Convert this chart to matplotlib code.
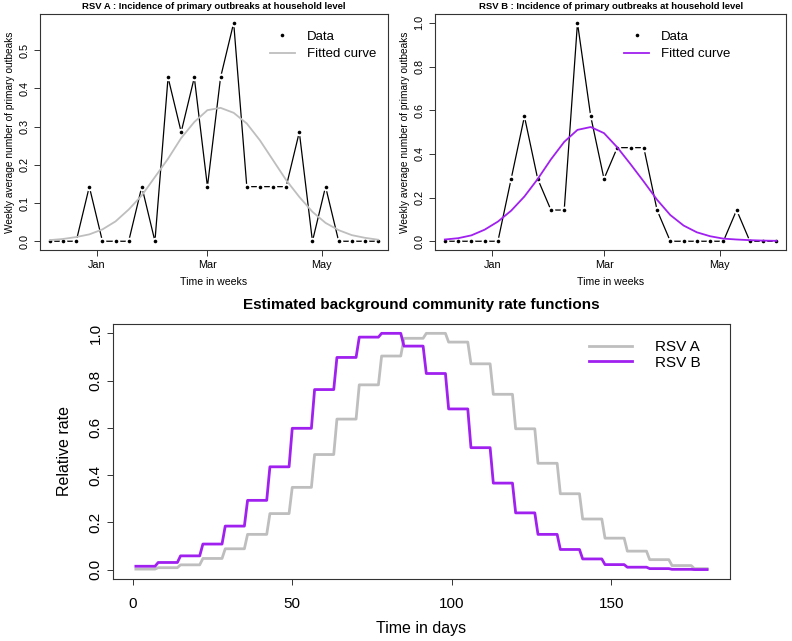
import numpy as np
import pandas as pd
import matplotlib
matplotlib.use("Agg")
import matplotlib.pyplot as plt
import matplotlib.dates as mdates

plt.rcParams['font.family'] = ['Liberation Sans', 'DejaVu Sans']

# weekly data (top panels)
week_dates = pd.date_range("2009-12-07", periods=26, freq="7D")
rsv_a_data = [0, 0, 0, 1/7, 0, 0, 0, 1/7, 0, 3/7, 2/7, 3/7, 1/7, 3/7, 4/7,
              1/7, 1/7, 1/7, 1/7, 2/7, 0, 1/7, 0, 0, 0, 0]
rsv_a_fit = [0.003, 0.006, 0.011, 0.018, 0.031, 0.052, 0.083, 0.12, 0.168, 0.216,
             0.27, 0.312, 0.343, 0.349, 0.336, 0.308, 0.264, 0.212, 0.16, 0.116,
             0.077, 0.048, 0.029, 0.016, 0.009, 0.004]
rsv_b_data = [0, 0, 0, 0, 0, 2/7, 4/7, 2/7, 1/7, 1/7, 1.0, 4/7, 2/7, 3/7, 3/7,
              3/7, 1/7, 0, 0, 0, 0, 0, 1/7, 0, 0, 0]
rsv_b_fit = [0.008, 0.014, 0.027, 0.053, 0.09, 0.14, 0.205, 0.285, 0.375, 0.455,
             0.51, 0.523, 0.495, 0.43, 0.353, 0.273, 0.19, 0.12, 0.072, 0.041,
             0.023, 0.012, 0.008, 0.005, 0.003, 0.002]

# weekly levels of the community rate functions (bottom panel), days 1..180
days = np.arange(1, 181)
rate_a_levels = [0.002, 0.008, 0.02, 0.047, 0.088, 0.149, 0.237, 0.348, 0.487, 0.637,
                 0.782, 0.904, 0.979, 1.0, 0.963, 0.871, 0.742, 0.596, 0.45, 0.321,
                 0.214, 0.133, 0.078, 0.042, 0.017, 0.004]
rate_b_levels = [0.014, 0.03, 0.058, 0.108, 0.184, 0.293, 0.435, 0.598, 0.762, 0.898,
                 0.984, 1.0, 0.946, 0.83, 0.68, 0.516, 0.366, 0.24, 0.149, 0.085,
                 0.045, 0.021, 0.01, 0.004, 0.001, 0.0]
rate_a = np.repeat(rate_a_levels, 7)[:len(days)]
rate_b = np.repeat(rate_b_levels, 7)[:len(days)]

GRAY = '#BEBEBE'
PURPLE = '#A020F0'

fig = plt.figure(figsize=(7.92, 6.41), dpi=100)
ax1 = fig.add_axes([0.0505, 0.61, 0.4394, 0.368])
ax2 = fig.add_axes([0.549, 0.61, 0.444, 0.368])
ax3 = fig.add_axes([0.1427, 0.0967, 0.779, 0.398])


def r_style(ax, fs, xpad=3.5):
    for s in ax.spines.values():
        s.set_linewidth(0.8)
        s.set_color('#333333')
    ax.tick_params(direction='out', length=4, width=0.7, color='#333333', labelsize=fs)
    ax.tick_params(axis='x', pad=xpad)
    for lab in ax.get_yticklabels():
        lab.set_rotation(90)
        lab.set_va('center')


def top_panel(ax, data, fit, fit_col, title, ymax, yticks, leg_x):
    ax.plot(week_dates, data, color='black', lw=0.9, zorder=2)
    ax.plot(week_dates, data, 'o', color='white', ms=5.5, mec='none', zorder=3)
    ax.plot(week_dates, data, 'o', color='black', ms=2.6, mec='none', zorder=4, label='Data')
    ax.plot(week_dates, fit, color=fit_col, lw=1.3, zorder=5, label='Fitted curve')
    pad = pd.Timedelta(days=5.3)
    ax.set_xlim(week_dates[0] - pad, week_dates[-1] + pad)
    ax.set_ylim(-0.04 * ymax, 1.04 * ymax)
    ax.set_yticks(yticks)
    ax.set_yticklabels([f"{v:.1f}" for v in yticks])
    ax.set_xticks(pd.to_datetime(["2010-01-01", "2010-03-01", "2010-05-01"]))
    ax.xaxis.set_major_formatter(mdates.DateFormatter('%b'))
    ax.set_title(title, fontsize=6.8, fontweight='bold', pad=4)
    ax.set_xlabel("Time in weeks", fontsize=7.6, labelpad=5)
    ax.set_ylabel("Weekly average number of primary outbeaks", fontsize=7.3, labelpad=3)
    ax.legend(loc='upper right', bbox_to_anchor=(leg_x, 0.98), frameon=False,
              fontsize=9.5, handlelength=1.9, handletextpad=0.9, labelspacing=0.4)
    r_style(ax, 7.8)


top_panel(ax1, rsv_a_data, rsv_a_fit, GRAY,
          "RSV A : Incidence of primary outbreaks at household level",
          4/7, [0.0, 0.1, 0.2, 0.3, 0.4, 0.5], 1.0)
top_panel(ax2, rsv_b_data, rsv_b_fit, PURPLE,
          "RSV B : Incidence of primary outbreaks at household level",
          1.0, [0.0, 0.2, 0.4, 0.6, 0.8, 1.0], 0.875)

# bottom panel
ax3.plot(days, rate_a, color=GRAY, lw=2.0, label='RSV A')
ax3.plot(days, rate_b, color=PURPLE, lw=2.0, label='RSV B')
ax3.set_xlim(1 - 0.04 * 179, 180 + 0.04 * 179)
ax3.set_ylim(-0.04, 1.04)
ax3.set_xticks([0, 50, 100, 150])
ax3.set_yticks([0.0, 0.2, 0.4, 0.6, 0.8, 1.0])
ax3.set_yticklabels([f"{v:.1f}" for v in [0.0, 0.2, 0.4, 0.6, 0.8, 1.0]])
ax3.set_title("Estimated background community rate functions", fontsize=11,
              fontweight='bold', pad=11)
ax3.set_xlabel("Time in days", fontsize=11.5, labelpad=7)
ax3.set_ylabel("Relative rate", fontsize=11.5, labelpad=12)
ax3.legend(loc='upper right', bbox_to_anchor=(0.975, 0.99), frameon=False,
           fontsize=11, handlelength=2.8, handletextpad=1.5, labelspacing=0.1)
r_style(ax3, 11, xpad=9)

fig.savefig("out.png", dpi=100)
